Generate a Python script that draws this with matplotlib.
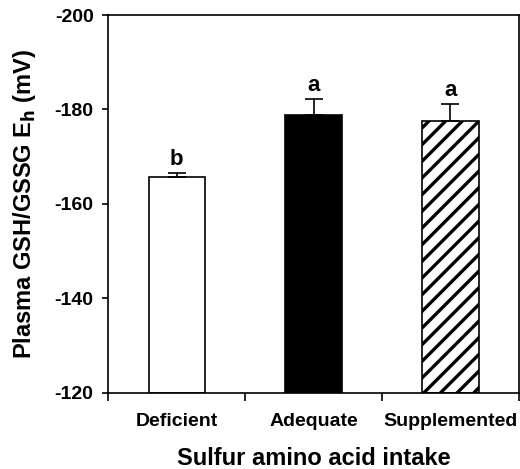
import matplotlib
matplotlib.use("Agg")
import matplotlib.pyplot as plt

plt.rcParams['font.family'] = ['Liberation Sans', 'DejaVu Sans']
plt.rcParams['hatch.linewidth'] = 2.4

categories = ["Deficient", "Adequate", "Supplemented"]
eh_values = [-165.6, -178.8, -177.6]
eh_sem = [1.0, 3.5, 3.5]
letters = ["b", "a", "a"]
faces = ["white", "black", "white"]
hatches = ["", "", "//"]
yticks = [-200, -180, -160, -140, -120]

fig = plt.figure(figsize=(5.2, 4.69), dpi=100)
ax = fig.add_axes([0.208, 0.163, 0.79, 0.805])

baseline = -120
x = list(range(len(categories)))
heights = [v - baseline for v in eh_values]
ax.bar(x, heights, bottom=baseline, width=0.41, color=faces,
       edgecolor="black", linewidth=1.2, hatch=hatches, zorder=2)

# one-sided error bars pointing away from the baseline (more negative Eh)
ax.errorbar(x, eh_values, yerr=[eh_sem, [0] * 3], fmt="none", ecolor="black",
            elinewidth=1.2, capsize=6.5, capthick=1.2, zorder=3)

for xi, v, e, lab in zip(x, eh_values, eh_sem, letters):
    ax.text(xi, v - e - 1.7, lab, ha="center", va="baseline",
            fontsize=16, fontweight="bold")

ax.set_ylim(-120, -200)
ax.set_xlim(-0.5, 2.5)
ax.set_yticks(yticks)
ax.set_yticklabels([str(t) for t in yticks], fontsize=14, fontweight="bold")
ax.set_xticks([-0.5, 0.5, 1.5, 2.5])
ax.set_xticklabels([])
ax.set_xticks(x, minor=True)
ax.set_xticklabels(categories, minor=True, fontsize=14, fontweight="bold")
ax.tick_params(axis="x", which="minor", length=0, pad=15)
ax.tick_params(axis="x", which="major", length=6, width=1.2, direction="out")
ax.tick_params(axis="y", length=4.5, width=1.2, direction="out", pad=6)

for sp in ax.spines.values():
    sp.set_linewidth(1.2)

ax.set_xlabel("Sulfur amino acid intake", fontsize=17, fontweight="bold", labelpad=12)
ax.set_ylabel(r"Plasma GSH/GSSG E$_\mathbf{h}$ (mV)", fontsize=17,
              fontweight="bold", labelpad=12)

fig.savefig("out.png", dpi=100)
